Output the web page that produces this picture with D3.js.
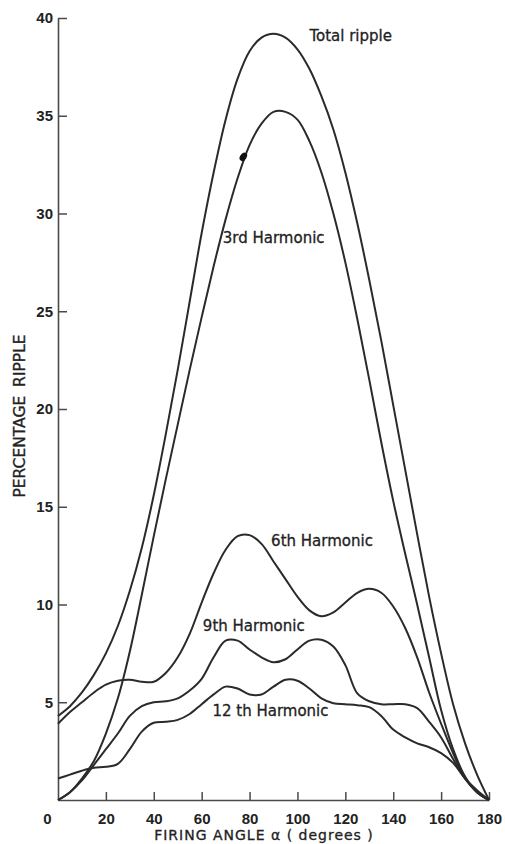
<!DOCTYPE html>
<html>
<head>
<meta charset="utf-8">
<script src="https://cdn.jsdelivr.net/npm/d3@7"></script>
<style>
  html, body { margin: 0; padding: 0; background: #ffffff; }
  svg { display: block; }
</style>
</head>
<body>
<svg id="chart" width="505" height="844"></svg>
<script>
// Firing angle in degrees (5° steps)
const angles = d3.range(0, 181, 5);

// Percentage ripple for each curve, one value per angle
const totalRipple = [4.3, 4.8, 5.5, 6.4, 7.5, 8.9, 10.7, 12.9, 15.6, 18.7, 22.0, 25.5, 29.0, 32.1, 34.8, 36.9, 38.3, 39.0, 39.2,
  39.0, 38.4, 37.4, 36.0, 34.3, 32.1, 29.5, 26.6, 23.5, 20.2, 16.9, 13.6, 10.4, 7.5, 4.9, 2.9, 1.3, 0];
const harmonic3 = [0, 0.4, 1.1, 2.0, 3.4, 5.2, 7.6, 10.5, 13.5, 16.4, 19.2, 22.0, 24.7, 27.3, 29.7, 31.8, 33.5, 34.6, 35.2,
  35.2, 34.8, 33.7, 32.1, 30.0, 27.5, 24.6, 21.5, 18.3, 15.3, 12.6, 10.0, 7.3, 4.6, 2.6, 1.2, 0.4, 0];
const harmonic6 = [3.9, 4.5, 5.0, 5.5, 5.9, 6.1, 6.15, 6.05, 6.05, 6.5, 7.3, 8.5, 10.1, 11.6, 12.8, 13.5, 13.55, 13.1, 12.2,
  11.3, 10.4, 9.7, 9.4, 9.6, 10.1, 10.6, 10.8, 10.6, 9.9, 8.8, 7.3, 5.5, 3.9, 2.4, 1.1, 0.4, 0];
const harmonic9 = [0, 0.4, 1.0, 1.8, 2.6, 3.4, 4.3, 4.8, 5.0, 5.05, 5.2, 5.6, 6.2, 7.3, 8.15, 8.15, 7.7, 7.3, 7.05,
  7.2, 7.7, 8.15, 8.2, 7.85, 6.9, 5.45, 5.05, 4.9, 4.9, 4.9, 4.7, 4.0, 3.2, 2.1, 1.1, 0.4, 0];
const harmonic12 = [1.1, 1.3, 1.5, 1.65, 1.7, 1.85, 2.6, 3.5, 3.95, 4.0, 4.1, 4.4, 4.9, 5.4, 5.8, 5.7, 5.4, 5.4, 5.8,
  6.15, 6.1, 5.7, 5.2, 4.95, 4.9, 4.85, 4.75, 4.3, 3.6, 3.2, 2.9, 2.7, 2.4, 1.9, 1.1, 0.5, 0];

const seriesNames = ["Total ripple", "3rd Harmonic", "6th Harmonic", "9th Harmonic", "12 th Harmonic"];
const seriesValues = [totalRipple, harmonic3, harmonic6, harmonic9, harmonic12];

// Where each curve's name is written: [angle, ripple] of the text's start
const labelAnchors = [[105, 38.8], [68.8, 28.5], [89, 12.97], [60.5, 8.65], [64.5, 4.3]];

// Ink blot on the 3rd harmonic curve
const blot = [77.4, 32.9];

const xTicks = [0, 20, 40, 60, 80, 100, 120, 140, 160, 180];
const yTicks = [5, 10, 15, 20, 25, 30, 35, 40];

const svg = d3.select("#chart");
const x = d3.scaleLinear().domain([0, 180]).range([58, 489]);
const y = d3.scaleLinear().domain([0, 40]).range([800, 18]);

const ink = "#2a2a2a";
const axisInk = "#4a4a4a";

// Axes with inward ticks
const xAxis = svg.append("g")
  .attr("transform", `translate(0,${y(0)})`)
  .call(d3.axisBottom(x).tickValues(xTicks).tickSizeInner(-8).tickSizeOuter(0).tickPadding(13).tickFormat(d3.format("d")));
const yAxis = svg.append("g")
  .attr("transform", `translate(${x(0)},0)`)
  .call(d3.axisLeft(y).tickValues(yTicks).tickSizeInner(-9).tickSizeOuter(0).tickPadding(5).tickFormat(d3.format("d")));

[xAxis, yAxis].forEach(g => {
  g.select(".domain").attr("stroke", axisInk).attr("stroke-width", 1.6);
  g.selectAll(".tick line").attr("stroke", axisInk).attr("stroke-width", 1.5);
  g.selectAll(".tick text")
    .attr("fill", "#222")
    .style("font-family", "'Liberation Sans', Arial, sans-serif")
    .style("font-size", "15px")
    .style("font-weight", "bold");
});
// origin label sits left of the corner
xAxis.selectAll(".tick").filter(d => d === 0).select("text").attr("x", -11);
xAxis.selectAll(".tick").filter(d => d === 0).select("line").remove();

// Curves
const line = d3.line()
  .x(d => x(d[0]))
  .y(d => y(d[1]))
  .curve(d3.curveCatmullRom.alpha(0.5));

seriesValues.forEach(vals => {
  svg.append("path")
    .datum(angles.map((a, i) => [a, vals[i]]))
    .attr("fill", "none")
    .attr("stroke", ink)
    .attr("stroke-width", 2)
    .attr("stroke-linejoin", "round")
    .attr("d", line);
});

svg.append("ellipse")
  .attr("cx", x(blot[0]))
  .attr("cy", y(blot[1]))
  .attr("rx", 3.2)
  .attr("ry", 4.6)
  .attr("transform", `rotate(35,${x(blot[0])},${y(blot[1])})`)
  .attr("fill", "#111");

// Curve names
seriesNames.forEach((name, i) => {
  svg.append("text")
    .attr("x", x(labelAnchors[i][0]))
    .attr("y", y(labelAnchors[i][1]))
    .attr("fill", "#222")
    .attr("stroke", "#222")
    .attr("stroke-width", 0.3)
    .style("font-family", "'DejaVu Sans', sans-serif")
    .style("font-size", "15px")
    .text(name);
});

// Axis titles
svg.append("text")
  .attr("x", 264)
  .attr("y", 840)
  .attr("text-anchor", "middle")
  .attr("fill", "#222")
  .attr("stroke", "#222")
  .attr("stroke-width", 0.3)
  .style("font-family", "'DejaVu Sans', sans-serif")
  .style("font-size", "14px")
  .style("letter-spacing", "1px")
  .text("FIRING ANGLE \u03b1 ( degrees )");

svg.append("text")
  .attr("transform", "translate(25,416) rotate(-90)")
  .attr("text-anchor", "middle")
  .attr("fill", "#222")
  .attr("stroke", "#222")
  .attr("stroke-width", 0.3)
  .style("font-family", "'DejaVu Sans', sans-serif")
  .style("font-size", "15.5px")
  .style("word-spacing", "4px")
  .text("PERCENTAGE RIPPLE");
</script>
</body>
</html>
